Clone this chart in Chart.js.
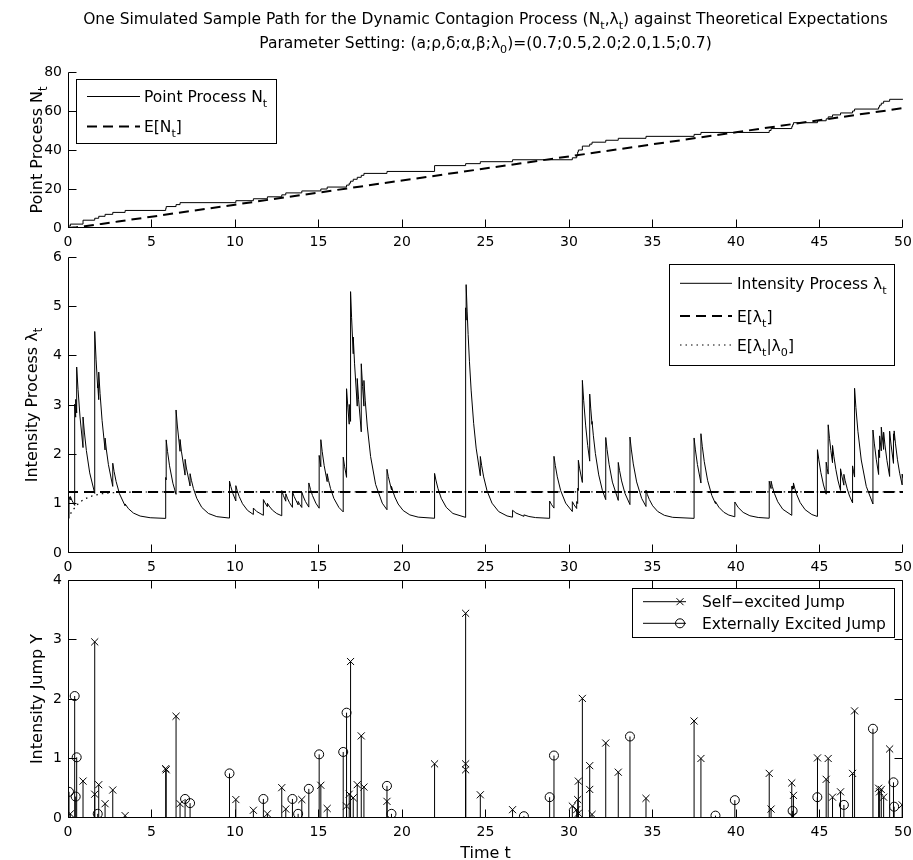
<!DOCTYPE html>
<html>
<head>
<meta charset="utf-8">
<title>Dynamic Contagion Process</title>
<script src="https://cdn.jsdelivr.net/npm/chart.js@4.4.1/dist/chart.umd.min.js"></script>
<style>
  html, body { margin: 0; padding: 0; background: #fff; }
  #wrap { position: relative; width: 913px; height: 860px; overflow: hidden; background: #fff; }
  canvas { position: absolute; left: 0; }
</style>
</head>
<body>
<div id="wrap">
  <canvas id="cN" width="913" height="252" style="top:0"></canvas>
  <canvas id="cL" width="913" height="338" style="top:240px"></canvas>
  <canvas id="cY" width="913" height="288" style="top:572px"></canvas>
</div>
<script>
// tick labels
const timeTicks = [0, 5, 10, 15, 20, 25, 30, 35, 40, 45, 50]
const nTicks = [0, 20, 40, 60, 80]
const lamTicks = [0, 1, 2, 3, 4, 5, 6]
const jumpTicks = [0, 1, 2, 3, 4]

// point process N_t (event time, count after it)
const nT = [0, 0.14, 0.9, 1.6, 1.84, 2.22, 2.68, 3.42, 5.85, 5.88, 6.47, 6.71, 10.05, 11.1, 11.94, 12.8, 13.04, 14.0,
  15.14, 15.52, 16.68, 16.84, 16.92, 17.08, 17.32, 17.56, 17.72, 19.1, 21.95, 23.81, 24.69, 26.62, 30.2, 30.46, 30.52,
  30.56, 30.8, 31.24, 31.38, 32.2, 32.95, 34.61, 37.49, 37.9, 41.99, 42.1, 43.34, 43.39, 43.44, 44.88, 45.4, 45.52,
  45.78, 46.26, 46.98, 47.1, 48.54, 48.6, 48.7, 48.84, 49.2, 49.95, 50]
const nV = [0, 1, 2, 4, 5, 6, 7, 8, 9, 10, 11, 12, 13, 14, 15, 16, 17, 18,
  19, 20, 21, 22, 23, 24, 25, 26, 27, 28, 29, 32, 33, 34, 35, 36, 37,
  39, 40, 42, 43, 44, 45, 46, 47, 48, 49, 50, 51, 52, 53, 54, 55, 56,
  57, 58, 59, 60, 61, 62, 63, 64, 65, 66, 66]

// E[N_t]
const enT = [0, 0.5, 1, 2, 3, 5, 10, 20, 30, 40, 50]
const enV = [0, 0.42, 0.94, 2.1, 3.32, 5.79, 11.97, 24.35, 36.72, 49.1, 61.47]

// intensity path [t, lambda]
const lamPath = [[0, 0.70], [0.06, 0.70], [0.06, 1.14], [0.14, 1.075], [0.14, 1.145], [0.25, 1.057], [0.40, 0.965],
  [0.40, 3.015], [0.46, 2.753], [0.46, 3.113], [0.52, 2.84], [0.52, 3.77], [0.6, 3.316], [0.72, 2.757], [0.9, 2.137],
  [0.9, 2.757], [0.98, 2.452], [1.1, 2.078], [1.3, 1.624], [1.6, 1.208], [1.6, 4.49], [1.68, 3.929], [1.78, 3.345],
  [1.78, 3.415], [1.84, 3.108], [1.84, 3.668], [1.92, 3.229], [2.04, 2.689], [2.22, 2.089], [2.22, 2.329], [2.3, 2.088],
  [2.42, 1.791], [2.68, 1.35], [2.68, 1.82], [2.76, 1.654], [2.88, 1.45], [3.08, 1.203], [3.42, 0.955], [3.42, 0.995],
  [3.62, 0.898], [3.92, 0.809], [4.32, 0.749], [4.92, 0.715], [5.85, 0.701], [5.85, 1.531], [5.88, 1.483], [5.88, 2.293],
  [5.96, 2.057], [6.08, 1.767], [6.28, 1.415], [6.47, 1.189], [6.47, 2.899], [6.55, 2.574], [6.71, 2.061], [6.71, 2.301],
  [6.79, 2.064], [7.01, 1.579], [7.01, 1.899], [7.09, 1.722], [7.31, 1.358], [7.31, 1.608], [7.39, 1.474], [7.51, 1.308],
  [7.71, 1.108], [8.01, 0.924], [8.41, 0.801], [8.91, 0.737], [9.67, 0.708], [9.67, 1.458], [9.75, 1.346], [9.87, 1.208],
  [10.05, 1.055], [10.05, 1.365], [10.13, 1.267], [10.25, 1.146], [10.45, 0.999], [10.75, 0.864], [11.1, 0.781],
  [11.1, 0.911], [11.3, 0.841], [11.7, 0.764], [11.7, 1.084], [11.8, 1.015], [11.94, 0.938], [11.94, 1.008],
  [12.04, 0.952], [12.24, 0.869], [12.5, 0.8], [12.8, 0.755], [12.8, 1.265], [12.9, 1.163], [13.04, 1.05], [13.04, 1.2],
  [13.14, 1.11], [13.26, 1.022], [13.44, 0.925], [13.44, 1.245], [13.54, 1.146], [13.78, 0.976], [13.78, 1.046],
  [13.88, 0.983], [14.0, 0.923], [14.0, 1.233], [14.1, 1.136], [14.22, 1.043], [14.42, 0.93], [14.42, 1.42],
  [14.52, 1.29], [14.64, 1.164], [14.84, 1.011], [15.04, 0.908], [15.04, 1.978], [15.14, 1.747], [15.14, 2.297],
  [15.22, 2.061], [15.34, 1.77], [15.52, 1.447], [15.52, 1.607], [15.6, 1.473], [15.72, 1.308], [15.92, 1.107],
  [16.22, 0.924], [16.48, 0.833], [16.48, 1.943], [16.56, 1.759], [16.68, 1.533], [16.68, 3.33], [16.76, 2.941],
  [16.84, 2.611], [16.84, 3.011], [16.92, 2.668], [16.92, 5.298], [16.98, 4.778], [17.08, 4.038], [17.08, 4.378],
  [17.16, 3.834], [17.32, 2.977], [17.32, 3.537], [17.4, 3.117], [17.56, 2.456], [17.56, 3.836], [17.64, 3.372],
  [17.72, 2.977], [17.72, 3.497], [17.8, 3.083], [17.92, 2.574], [18.12, 1.956], [18.42, 1.391], [18.82, 1.01],
  [19.1, 0.877], [19.1, 1.697], [19.18, 1.55], [19.37, 1.281], [19.37, 1.351], [19.45, 1.255], [19.57, 1.136],
  [19.77, 0.992], [20.07, 0.861], [20.47, 0.772], [20.97, 0.727], [21.95, 0.704], [21.95, 1.614], [22.03, 1.479],
  [22.15, 1.312], [22.35, 1.11], [22.65, 0.926], [23.05, 0.801], [23.81, 0.722], [23.81, 4.97], [23.84, 4.72],
  [23.84, 5.44], [23.9, 4.904], [23.96, 4.43], [24.04, 3.876], [24.14, 3.302], [24.29, 2.629], [24.44, 2.127],
  [24.69, 1.566], [24.69, 1.956], [24.77, 1.77], [24.89, 1.542], [25.09, 1.264], [25.39, 1.01], [25.79, 0.839],
  [26.29, 0.751], [26.62, 0.726], [26.62, 0.866], [26.82, 0.811], [27.3, 0.743], [27.3, 0.773], [27.6, 0.74],
  [28.0, 0.718], [28.84, 0.703], [28.84, 1.053], [28.96, 0.978], [29.1, 0.91], [29.1, 1.96], [29.18, 1.774],
  [29.3, 1.544], [29.5, 1.266], [29.8, 1.011], [30.2, 0.84], [30.2, 1.04], [30.3, 0.978], [30.46, 0.902], [30.46, 1.042],
  [30.52, 1.003], [30.52, 1.313], [30.56, 1.266], [30.56, 1.88], [30.64, 1.705], [30.8, 1.43], [30.8, 3.5], [30.88, 3.086],
  [31.0, 2.576], [31.12, 2.176], [31.24, 1.862], [31.24, 3.222], [31.3, 2.937], [31.38, 2.607], [31.38, 2.667],
  [31.46, 2.376], [31.58, 2.018], [31.78, 1.583], [32.0, 1.268], [32.2, 1.081], [32.2, 2.341], [32.28, 2.098],
  [32.4, 1.799], [32.6, 1.437], [32.95, 1.066], [32.95, 1.836], [33.03, 1.668], [33.15, 1.461], [33.35, 1.21],
  [33.65, 0.981], [33.65, 2.351], [33.73, 2.107], [33.85, 1.806], [34.05, 1.441], [34.35, 1.108], [34.61, 0.943],
  [34.61, 1.273], [34.69, 1.188], [34.81, 1.084], [35.01, 0.957], [35.31, 0.842], [35.71, 0.764], [36.21, 0.723],
  [37.49, 0.702], [37.49, 2.332], [37.57, 2.09], [37.69, 1.793], [37.9, 1.418], [37.9, 2.418], [37.98, 2.164],
  [38.1, 1.851], [38.3, 1.471], [38.55, 1.169], [38.77, 1.002], [38.77, 1.042], [38.97, 0.929], [39.27, 0.826],
  [39.57, 0.769], [39.93, 0.734], [39.93, 1.034], [40.13, 0.924], [40.43, 0.823], [40.83, 0.755], [41.33, 0.72],
  [41.99, 0.705], [41.99, 1.455], [42.1, 1.306], [42.1, 1.456], [42.18, 1.344], [42.3, 1.207], [42.5, 1.039],
  [42.8, 0.887], [43.34, 0.763], [43.34, 1.353], [43.39, 1.291], [43.39, 1.36], [43.44, 1.30], [43.44, 1.42],
  [43.52, 1.31], [43.64, 1.182], [43.84, 1.023], [44.14, 0.878], [44.54, 0.78], [44.87, 0.741], [44.87, 1.091],
  [44.88, 1.084], [44.88, 2.094], [44.96, 1.888], [45.08, 1.634], [45.24, 1.379], [45.4, 1.192], [45.4, 1.842],
  [45.46, 1.713], [45.52, 1.599], [45.52, 2.599], [45.6, 2.318], [45.68, 2.079], [45.78, 1.83], [45.78, 2.18],
  [45.86, 1.961], [45.98, 1.692], [46.1, 1.48], [46.26, 1.267], [46.26, 1.707], [46.34, 1.558], [46.46, 1.375],
  [46.46, 1.595], [46.54, 1.463], [46.66, 1.3], [46.8, 1.154], [46.98, 1.016], [46.98, 1.766], [47.04, 1.646],
  [47.1, 1.539], [47.1, 3.339], [47.18, 2.949], [47.3, 2.468], [47.5, 1.885], [47.8, 1.352], [48.2, 0.993],
  [48.2, 2.493], [48.28, 2.228], [48.4, 1.901], [48.54, 1.591], [48.54, 2.091], [48.6, 1.934], [48.6, 2.374],
  [48.7, 2.071], [48.7, 2.551], [48.84, 2.099], [48.84, 2.449], [48.92, 2.191], [49.04, 1.872], [49.2, 1.552],
  [49.2, 2.47], [49.28, 2.208], [49.43, 1.817], [49.43, 2.417], [49.47, 2.285], [49.47, 2.475], [49.55, 2.212],
  [49.67, 1.889], [49.8, 1.617], [49.95, 1.38], [49.95, 1.6], [50, 1.515]]

// E[lambda_t] and E[lambda_t | lambda_0]
const meanLam = 1.2375
const elT = [0, 0.1, 0.25, 0.5, 0.75, 1, 1.5, 2, 2.5, 3, 4, 5, 50]
const elV = [0.7, 0.767, 0.852, 0.961, 1.04, 1.096, 1.165, 1.2, 1.218, 1.228, 1.235, 1.237, 1.2375]

// jump sizes [t, Y]
const selfJumps = [[0.14, 0.07], [0.9, 0.62], [1.6, 2.96], [1.6, 0.40], [1.84, 0.56], [2.22, 0.24], [2.68, 0.47],
  [3.42, 0.04], [5.85, 0.83], [5.88, 0.81], [6.47, 1.71], [6.71, 0.24], [10.05, 0.31], [11.1, 0.13], [11.94, 0.07],
  [12.8, 0.51], [13.04, 0.15], [14.0, 0.31], [15.14, 0.55], [15.52, 0.16], [16.68, 0.20], [16.84, 0.40], [16.92, 2.63],
  [17.08, 0.34], [17.32, 0.56], [17.56, 1.38], [17.72, 0.52], [19.1, 0.28], [21.95, 0.91], [23.81, 3.44], [23.81, 0.91],
  [23.81, 0.81], [24.69, 0.39], [26.62, 0.14], [30.2, 0.20], [30.46, 0.14], [30.52, 0.31], [30.56, 0.62], [30.56, 0.08],
  [30.8, 2.01], [31.24, 0.88], [31.24, 0.48], [31.38, 0.06], [32.2, 1.26], [32.95, 0.77], [34.61, 0.33], [37.49, 1.63],
  [37.9, 1.0], [41.99, 0.75], [42.1, 0.15], [43.34, 0.59], [43.39, 0.03], [43.44, 0.38], [44.88, 1.01], [45.4, 0.65],
  [45.52, 1.0], [45.78, 0.35], [46.26, 0.44], [46.98, 0.75], [47.1, 1.8], [48.54, 0.5], [48.6, 0.44], [48.7, 0.48],
  [48.84, 0.35], [49.2, 1.16], [49.95, 0.22]]
const extJumps = [[0.06, 0.44], [0.40, 2.05], [0.46, 0.36], [0.52, 1.02], [1.78, 0.07], [7.01, 0.32], [7.31, 0.25],
  [9.67, 0.75], [11.7, 0.32], [13.44, 0.32], [13.78, 0.07], [14.42, 0.49], [15.04, 1.07], [16.48, 1.11], [16.68, 1.77],
  [19.1, 0.54], [19.37, 0.07], [27.3, 0.03], [28.84, 0.35], [29.1, 1.05], [33.65, 1.37], [38.77, 0.04], [39.93, 0.30],
  [43.39, 0.12], [44.87, 0.35], [46.46, 0.22], [48.2, 1.5], [49.43, 0.6], [49.47, 0.19]]

const titleTop = 'One Simulated Sample Path for the Dynamic Contagion Process (N_{t},λ_{t}) against Theoretical Expectations'
const titleSub = 'Parameter Setting: (a;ρ,δ;α,β;λ_{0})=(0.7;0.5,2.0;2.0,1.5;0.7)'

const FONT = '"DejaVu Sans", sans-serif'

// text with _{sub} parts
function parts(str) {
  const out = []
  str.split(/(_\{[^}]*\})/).forEach(p => {
    if (!p) return
    if (p.startsWith('_{')) out.push({t: p.slice(2, -1), s: true})
    else out.push({t: p, s: false})
  })
  return out
}

function rich(ctx, str, x, y, size, align) {
  const list = parts(str), sub = size * 0.72
  let w = 0
  list.forEach(p => {
    ctx.font = (p.s ? sub : size) + 'px ' + FONT
    p.w = ctx.measureText(p.t).width
    w += p.w
  })
  let cx = align === 'center' ? x - w / 2 : x
  ctx.textAlign = 'left'
  ctx.textBaseline = 'alphabetic'
  ctx.fillStyle = '#000'
  list.forEach(p => {
    ctx.font = (p.s ? sub : size) + 'px ' + FONT
    ctx.fillText(p.t, cx, p.s ? y + size * 0.32 : y)
    cx += p.w
  })
}

function richUp(ctx, str, x, y, size) { // rotated axis title
  ctx.save()
  ctx.translate(x, y)
  ctx.rotate(-Math.PI / 2)
  rich(ctx, str, 0, 0, size, 'center')
  ctx.restore()
}

function legendBox(ctx, x0, y0, x1, y1) {
  ctx.fillStyle = '#fff'
  ctx.fillRect(x0, y0, x1 - x0, y1 - y0)
  ctx.strokeStyle = '#000'
  ctx.lineWidth = 1
  ctx.setLineDash([])
  ctx.strokeRect(x0 + 0.5, y0 + 0.5, x1 - x0, y1 - y0)
}

function legendLine(ctx, x0, x1, y, width, dash) {
  ctx.beginPath()
  ctx.strokeStyle = '#000'
  ctx.lineWidth = width
  ctx.setLineDash(dash)
  ctx.moveTo(x0, y)
  ctx.lineTo(x1, y)
  ctx.stroke()
  ctx.setLineDash([])
}

function marker(ctx, kind, x, y) {
  ctx.beginPath()
  ctx.lineWidth = 1
  ctx.strokeStyle = '#000'
  if (kind === 'x') {
    ctx.moveTo(x - 3.5, y - 3.5); ctx.lineTo(x + 3.5, y + 3.5)
    ctx.moveTo(x - 3.5, y + 3.5); ctx.lineTo(x + 3.5, y - 3.5)
  } else {
    ctx.arc(x, y, 4.5, 0, Math.PI * 2)
  }
  ctx.stroke()
}

// axes lines and inward ticks
function frame(box) {
  return {
    id: 'frame',
    afterDatasetsDraw(chart) {
      const {ctx, chartArea: a, scales: {x, y}} = chart
      const L = Math.round(a.left) + 0.5, R = Math.round(a.right) - 0.5
      const T = Math.round(a.top) + 0.5, B = Math.round(a.bottom) - 0.5
      const sx = v => Math.min(R, Math.floor(x.getPixelForValue(v)) + 0.5)
      const sy = v => Math.max(T, Math.min(B, Math.floor(y.getPixelForValue(v)) + 0.5))
      ctx.save()
      ctx.strokeStyle = '#000'
      ctx.lineWidth = 1
      ctx.beginPath()
      ctx.moveTo(L, T)
      ctx.lineTo(L, B)
      ctx.lineTo(R, B)
      if (box) {
        ctx.lineTo(R, T)
        ctx.lineTo(L, T)
      }
      x.ticks.forEach(t => {
        const p = sx(t.value)
        ctx.moveTo(p, B); ctx.lineTo(p, B - 8)
        if (box) { ctx.moveTo(p, T); ctx.lineTo(p, T + 8) }
      })
      y.ticks.forEach(t => {
        const p = sy(t.value)
        ctx.moveTo(L, p); ctx.lineTo(L + 8, p)
        if (box) { ctx.moveTo(R, p); ctx.lineTo(R - 8, p) }
      })
      ctx.stroke()
      ctx.restore()
    }
  }
}

function xScale(h) {
  return {
    type: 'linear', min: 0, max: 50,
    grid: {display: false, drawTicks: false},
    border: {display: false},
    ticks: {color: '#000', font: {family: FONT, size: 14}, padding: 6, maxRotation: 0, autoSkip: false},
    afterBuildTicks: s => { s.ticks = timeTicks.map(v => ({value: v})) },
    afterFit: s => { s.height = h; s.paddingLeft = 0; s.paddingRight = 0 }
  }
}

function yScale(max, ticks) {
  return {
    type: 'linear', min: 0, max: max,
    grid: {display: false, drawTicks: false},
    border: {display: false},
    ticks: {color: '#000', font: {family: FONT, size: 14}, padding: 6, autoSkip: false},
    afterBuildTicks: s => { s.ticks = ticks.map(v => ({value: v})) },
    afterFit: s => { s.width = 68; s.paddingTop = 0; s.paddingBottom = 0 }
  }
}

const base = {
  responsive: false,
  animation: false,
  events: [],
  plugins: {legend: {display: false}, tooltip: {enabled: false}}
}

const pt = (t, v) => ({x: t, y: v})

// stems: base, top (marker), gap
function stems(list) {
  const out = []
  list.forEach(([t, v]) => {
    out.push({x: t, y: 0}, {x: t, y: v, top: true}, {x: t, y: null})
  })
  return out
}

// ---- top panel: N_t ----
new Chart(document.getElementById('cN'), {
  type: 'scatter',
  data: {
    datasets: [
      {label: 'Point Process N_{t}', data: nT.map((t, i) => pt(t, nV[i])), showLine: true, stepped: 'after',
        borderColor: '#000', borderWidth: 1, pointRadius: 0},
      {label: 'E[N_{t}]', data: enT.map((t, i) => pt(t, enV[i])), showLine: true,
        borderColor: '#000', borderWidth: 2, borderDash: [10, 6], pointRadius: 0}
    ]
  },
  options: {
    ...base,
    layout: {padding: {top: 72, right: 10, left: 0, bottom: 0}},
    scales: {x: xScale(24), y: yScale(80, nTicks)}
  },
  plugins: [frame(false), {
    id: 'decoN',
    afterDraw(chart) {
      const ctx = chart.ctx, ds = chart.data.datasets
      rich(ctx, titleTop, 485.5, 24, 15.5, 'center')
      rich(ctx, titleSub, 485.5, 48, 15.5, 'center')
      richUp(ctx, 'Point Process N_{t}', 41.5, 150, 16)
      legendBox(ctx, 76, 79, 276, 143)
      legendLine(ctx, 87, 140, 96.5, 1, [])
      legendLine(ctx, 87, 140, 126.5, 2, [10, 6])
      rich(ctx, ds[0].label, 144, 102, 15.5, 'left')
      rich(ctx, ds[1].label, 144, 132, 15.5, 'left')
    }
  }]
})

// ---- middle panel: intensity ----
new Chart(document.getElementById('cL'), {
  type: 'scatter',
  data: {
    datasets: [
      {label: 'Intensity Process λ_{t}', data: lamPath.map(([t, v]) => pt(t, v)), showLine: true,
        borderColor: '#000', borderWidth: 1, pointRadius: 0},
      {label: 'E[λ_{t}]', data: [pt(0, meanLam), pt(50, meanLam)], showLine: true,
        borderColor: '#000', borderWidth: 2, borderDash: [10, 6], pointRadius: 0},
      {label: 'E[λ_{t}|λ_{0}]', data: elT.map((t, i) => pt(t, elV[i])), showLine: true,
        borderColor: '#000', borderWidth: 1.2, borderDash: [1.5, 4], pointRadius: 0}
    ]
  },
  options: {
    ...base,
    layout: {padding: {top: 17, right: 10, left: 0, bottom: 0}},
    scales: {x: xScale(25), y: yScale(6, lamTicks)}
  },
  plugins: [frame(false), {
    id: 'decoL',
    afterDraw(chart) {
      const ctx = chart.ctx, ds = chart.data.datasets
      richUp(ctx, 'Intensity Process λ_{t}', 36.5, 165, 16)
      legendBox(ctx, 669, 24, 894, 125)
      legendLine(ctx, 680, 732, 43.3, 1, [])
      legendLine(ctx, 680, 732, 76, 2, [10, 6])
      legendLine(ctx, 680, 732, 105, 1.2, [1.5, 4])
      rich(ctx, ds[0].label, 737, 49, 15.5, 'left')
      rich(ctx, ds[1].label, 737, 81.6, 15.5, 'left')
      rich(ctx, ds[2].label, 737, 110.6, 15.5, 'left')
    }
  }]
})

// ---- bottom panel: jumps ----
new Chart(document.getElementById('cY'), {
  type: 'scatter',
  data: {
    datasets: [
      {label: 'Self−excited Jump', data: stems(selfJumps), showLine: true, spanGaps: false,
        borderColor: '#000', borderWidth: 1, pointStyle: 'crossRot',
        pointRadius: c => (c.raw && c.raw.top ? 5 : 0), pointBorderColor: '#000', pointBorderWidth: 1,
        pointBackgroundColor: 'rgba(0,0,0,0)'},
      {label: 'Externally Excited Jump', data: stems(extJumps), showLine: true, spanGaps: false,
        borderColor: '#000', borderWidth: 1, pointStyle: 'circle',
        pointRadius: c => (c.raw && c.raw.top ? 4.5 : 0), pointBorderColor: '#000', pointBorderWidth: 1,
        pointBackgroundColor: 'rgba(0,0,0,0)'}
    ]
  },
  options: {
    ...base,
    layout: {padding: {top: 8, right: 10, left: 0, bottom: 0}},
    scales: {x: xScale(42), y: yScale(4, jumpTicks)}
  },
  plugins: [frame(true), {
    id: 'decoY',
    afterDraw(chart) {
      const ctx = chart.ctx, ds = chart.data.datasets
      richUp(ctx, 'Intensity Jump Y', 41.5, 127, 16)
      rich(ctx, 'Time t', 485.5, 286, 16, 'center')
      legendBox(ctx, 632, 16, 894, 65)
      legendLine(ctx, 643, 686, 29.7, 1, [])
      legendLine(ctx, 643, 686, 51.3, 1, [])
      marker(ctx, 'x', 680, 29.7)
      marker(ctx, 'o', 680, 51.3)
      rich(ctx, ds[0].label, 702, 35.3, 15.5, 'left')
      rich(ctx, ds[1].label, 702, 56.9, 15.5, 'left')
    }
  }]
})
</script>
</body>
</html>
